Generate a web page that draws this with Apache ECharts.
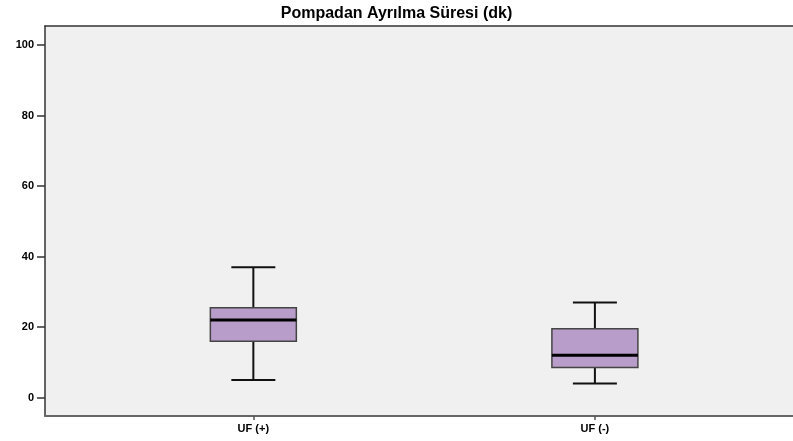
<!DOCTYPE html>
<html>
<head>
<meta charset="utf-8">
<script src="https://cdn.jsdelivr.net/npm/echarts@6/dist/echarts.min.js"></script>
<style>
  html, body { margin: 0; padding: 0; background: #fff; }
  #chart { width: 793px; height: 441px; }
</style>
</head>
<body>
<div id="chart"></div>
<script>
// groups and their position on the x axis
var categories = ['UF (+)', 'UF (-)']
var positions = [0, 1]
// five number summary per group (dk)
var mins = [5, 4]
var q1s = [16, 8.5]
var medians = [22, 12]
var q3s = [25.5, 19.5]
var maxs = [37, 27]
var yTicks = [0, 20, 40, 60, 80, 100]

var boxData = categories.map(function(c, i) {
  return [positions[i], mins[i], q1s[i], medians[i], q3s[i], maxs[i]]
})

var BOX_W = 86
var CAP_W = 44

function renderBox(params, api) {
  var x = api.value(0)
  var pMin = api.coord([x, api.value(1)])
  var pQ1 = api.coord([x, api.value(2)])
  var pMed = api.coord([x, api.value(3)])
  var pQ3 = api.coord([x, api.value(4)])
  var pMax = api.coord([x, api.value(5)])
  var cx = pMin[0]
  var lineStyle = { stroke: '#111', lineWidth: 2 }
  return {
    type: 'group',
    children: [
      { type: 'line', shape: { x1: cx, y1: pMin[1], x2: cx, y2: pQ1[1] }, style: lineStyle },
      { type: 'line', shape: { x1: cx, y1: pQ3[1], x2: cx, y2: pMax[1] }, style: lineStyle },
      { type: 'line', shape: { x1: cx - CAP_W / 2, y1: pMin[1], x2: cx + CAP_W / 2, y2: pMin[1] }, style: lineStyle },
      { type: 'line', shape: { x1: cx - CAP_W / 2, y1: pMax[1], x2: cx + CAP_W / 2, y2: pMax[1] }, style: lineStyle },
      {
        type: 'rect',
        shape: { x: cx - BOX_W / 2, y: pQ3[1], width: BOX_W, height: pQ1[1] - pQ3[1] },
        style: { fill: '#b89cc9', stroke: '#444', lineWidth: 1.5 }
      },
      { type: 'line', shape: { x1: cx - BOX_W / 2, y1: pMed[1], x2: cx + BOX_W / 2, y2: pMed[1] }, style: { stroke: '#000', lineWidth: 3 } }
    ]
  }
}

var chart = echarts.init(document.getElementById('chart'))
chart.setOption({
  animation: false,
  title: {
    text: 'Pompadan Ayrılma Süresi (dk)',
    left: 'center',
    top: 1,
    textStyle: { fontFamily: 'Liberation Sans', fontWeight: 'bold', fontSize: 16, color: '#000' }
  },
  grid: {
    left: 45,
    right: 0,
    top: 26,
    bottom: 25,
    show: true,
    backgroundColor: '#f0f0f0',
    borderWidth: 0
  },
  xAxis: [{
    type: 'value',
    min: -0.61,
    max: 1.58,
    splitLine: { show: false },
    axisLine: { show: true, onZero: false, lineStyle: { color: '#666', width: 2 } },
    axisTick: { show: true, length: 4, customValues: positions, lineStyle: { color: '#555', width: 1.5 } },
    axisLabel: {
      customValues: positions,
      formatter: function(v) { return categories[Math.round(v)] },
      fontFamily: 'Liberation Sans',
      fontWeight: 'bold',
      fontSize: 11,
      color: '#000',
      margin: 7
    }
  }, {
    type: 'value',
    position: 'top',
    min: -0.61,
    max: 1.58,
    splitLine: { show: false },
    axisLine: { show: true, onZero: false, lineStyle: { color: '#333', width: 1.5 } },
    axisTick: { show: false },
    axisLabel: { show: false }
  }],
  yAxis: {
    type: 'value',
    min: -5.25,
    max: 105.45,
    splitLine: { show: false },
    axisLine: { show: true, onZero: false, lineStyle: { color: '#333', width: 1.5 } },
    axisTick: { show: true, length: 8, customValues: yTicks, lineStyle: { color: '#333', width: 1.5 } },
    axisLabel: {
      customValues: yTicks,
      fontFamily: 'Liberation Sans',
      fontWeight: 'bold',
      fontSize: 11,
      color: '#000',
      margin: 11
    }
  },
  series: [{
    type: 'custom',
    xAxisIndex: 0,
    renderItem: renderBox,
    encode: { x: 0, y: [1, 2, 3, 4, 5] },
    data: boxData
  }]
})
</script>
</body>
</html>
